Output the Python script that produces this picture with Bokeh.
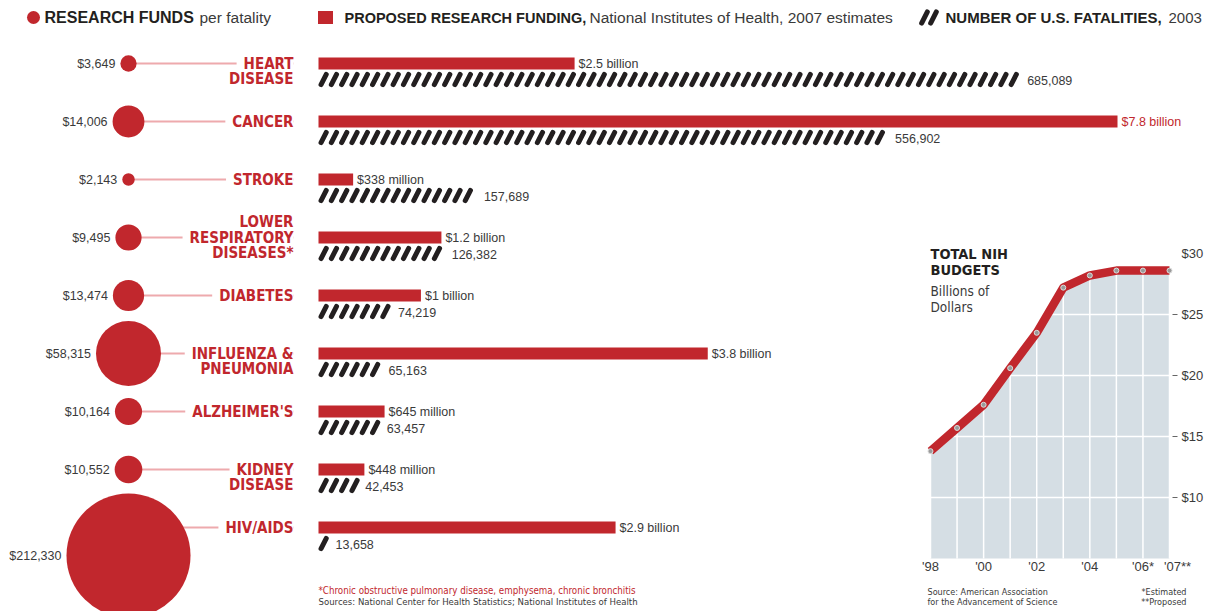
import math
from bokeh.plotting import figure
from bokeh.models import Range1d
from bokeh.core.properties import value
from bokeh.embed import file_html
from bokeh.resources import INLINE

# ---------------- data ----------------
diseases = ["HEART\nDISEASE", "CANCER", "STROKE", "LOWER\nRESPIRATORY\nDISEASES*",
            "DIABETES", "INFLUENZA &\nPNEUMONIA", "ALZHEIMER'S", "KIDNEY\nDISEASE", "HIV/AIDS"]
funds_per_fatality = [3649, 14006, 2143, 9495, 13474, 58315, 10164, 10552, 212330]
funding_billions = [2.5, 7.8, 0.338, 1.2, 1.0, 3.8, 0.645, 0.448, 2.9]
funding_labels = ["$2.5 billion", "$7.8 billion", "$338 million", "$1.2 billion", "$1 billion",
                  "$3.8 billion", "$645 million", "$448 million", "$2.9 billion"]
fatalities = [685089, 556902, 157689, 126382, 74219, 65163, 63457, 42453, 13658]
fatalities_per_icon = 10000

nih_years = [1998, 1999, 2000, 2001, 2002, 2003, 2004, 2005, 2006, 2007]
nih_budget = [13.8, 15.7, 17.6, 20.6, 23.5, 27.2, 28.2, 28.6, 28.6, 28.6]
year_ticks = [1998, 2000, 2002, 2004, 2006, 2007]
year_tick_labels = ["'98", "'00", "'02", "'04", "'06*", "'07**"]
dollar_ticks = [10, 15, 20, 25, 30]
dollar_tick_labels = ["$10", "$15", "$20", "$25", "$30"]
nih_floor = 5

# ---------------- layout / style ----------------
W, H = 1213, 611
RED = "#c1272d"
PINK = "#eeaaad"
INK = "#231f20"
GREY = "#3a3a3a"
NARROW = "Liberation Sans Narrow, DejaVu Sans Condensed, sans-serif"
SANS = "Liberation Sans, Arial, sans-serif"
ROW = 58.0          # row pitch in px


def span(v0, p0, v1, p1, flip=False):
    k = (v1 - v0) / (p1 - p0)
    f = lambda p: v0 + (p - p0) * k
    if flip:
        return Range1d(start=f(H), end=f(0))
    return Range1d(start=f(0), end=f(W))


p = figure(width=W, height=H, output_backend="svg", toolbar_location=None,
           x_axis_type=None, y_axis_type=None, min_border=0,
           x_range=span(0, 318, 7.8, 1117), y_range=span(0, 63, 8, 527, flip=True))
p.grid.visible = False
p.outline_line_color = None
p.background_fill_color = "white"
p.border_fill_color = "white"
p.extra_x_ranges = {"px": span(0, 0, 1, 1), "fat": span(0, 318, fatalities_per_icon, 328.3),
                    "yr": span(1998, 930, 2007, 1169)}
p.extra_y_ranges = {"py": span(0, 0, 1, 1, flip=True), "usd": span(30, 253, 10, 497, flip=True)}

n = len(diseases)
rows = list(range(n))

# ---- circles: research funds per fatality ----
CX = 128
K = 0.1346
radius = [K * math.sqrt(v) for v in funds_per_fatality]
circle_y = [i + max(0.0, r - 34) / ROW for i, r in zip(rows, radius)]

p.segment(x0=[CX] * n, y0=rows, x1=[293] * n, y1=rows, x_range_name="px",
          line_color=PINK, line_width=2)
p.scatter(x=[CX] * n, y=circle_y, size=[2 * r for r in radius], x_range_name="px",
          fill_color=RED, line_color=None)
p.text(x=[CX] * n, y=circle_y, text=[f"${v:,}" for v in funds_per_fatality],
       x_offset=[-(r + 5) for r in radius], x_range_name="px",
       text_align="right", text_baseline="middle", text_font=value(SANS),
       text_font_size="12.5px", text_color=GREY)

# ---- disease labels ----
lx, ly, lt = [], [], []
for i, lab in enumerate(diseases):
    lines = lab.split("\n")
    first = -((len(lines) - 1) // 2)
    for j, ln in enumerate(lines):
        lx.append(293)
        ly.append(i + (first + j) * 15.5 / ROW)
        lt.append(ln)
p.text(x=lx, y=ly, text=lt, x_range_name="px", text_align="right", text_baseline="middle",
       text_font=value(NARROW), text_font_style="bold", text_font_size="15px",
       text_color=RED, background_fill_color="white",
       padding=dict(left=7, right=0, top=0, bottom=0))

# ---- bars: proposed research funding ----
p.hbar(y=rows, left=0, right=funding_billions, height=12 / ROW, fill_color=RED, line_color=None)
top = max(funding_billions)
p.text(x=funding_billions, y=rows, text=funding_labels, x_offset=4,
       text_baseline="middle", text_font=value(SANS), text_font_size="12.5px",
       text_color=[RED if v == top else GREY for v in funding_billions])

# ---- icons: fatalities ----
ix, iy = [], []
for i, f in enumerate(fatalities):
    for k in range(int(f // fatalities_per_icon)):
        ix.append((k + 0.5) * fatalities_per_icon)
        iy.append(i + 16 / ROW)
p.scatter(x=ix, y=iy, x_range_name="fat", marker="dash", size=11.5, angle=1.1,
          line_width=5, line_color=INK, line_cap="round")
p.text(x=fatalities, y=[i + 17 / ROW for i in rows], text=[f"{v:,}" for v in fatalities],
       x_range_name="fat", x_offset=3, text_baseline="middle", text_font=value(SANS),
       text_font_size="12.5px", text_color=GREY)

# ---- inset: total NIH budgets ----
p.varea(x=nih_years, y1=[nih_floor] * len(nih_years), y2=nih_budget, x_range_name="yr",
        y_range_name="usd", fill_color="#d5dee4")
p.segment(x0=nih_years, y0=[nih_floor] * len(nih_years), x1=nih_years, y1=nih_budget,
          x_range_name="yr", y_range_name="usd", line_color="white", line_width=1.5)
p.segment(x0=[nih_years[0]] * 4, y0=dollar_ticks[:-1], x1=[nih_years[-1]] * 4, y1=dollar_ticks[:-1],
          x_range_name="yr", y_range_name="usd", line_color="white", line_width=1.5)
p.line(x=nih_years, y=nih_budget, x_range_name="yr", y_range_name="usd",
       line_color=RED, line_width=8.5, line_join="round")
p.scatter(x=nih_years, y=nih_budget, x_range_name="yr", y_range_name="usd", size=5,
          fill_color="#9a9a9a", line_color="#dddddd", line_width=1)
p.segment(x0=[1172] * 4, y0=dollar_ticks[:-1], x1=[1177] * 4, y1=dollar_ticks[:-1],
          x_range_name="px", y_range_name="usd", line_color="#666666", line_width=1)
p.text(x=[1181] * len(dollar_ticks), y=dollar_ticks, text=dollar_tick_labels,
       x_range_name="px", y_range_name="usd", text_baseline="middle",
       text_font=value(SANS), text_font_size="13px", text_color=GREY)
p.text(x=year_ticks, y=[566] * len(year_ticks), text=year_tick_labels,
       x_offset=[0, 0, 0, 0, 0, 8], x_range_name="yr", y_range_name="py",
       text_align="center", text_baseline="middle", text_font=value(SANS),
       text_font_size="13px", text_color=GREY)
p.text(x=[930, 930], y=[253, 269], text=["TOTAL NIH", "BUDGETS"], x_range_name="px",
       y_range_name="py", text_baseline="middle", text_font=value(NARROW),
       text_font_style="bold", text_font_size="14.5px", text_color=INK)
p.text(x=[930, 930], y=[290, 306], text=["Billions of", "Dollars"], x_range_name="px",
       y_range_name="py", text_baseline="middle", text_font=value(NARROW),
       text_font_size="13.5px", text_color=GREY)
p.text(x=[927, 927], y=[591, 601], text=["Source: American Association", "for the Advancement of Science"],
       x_range_name="px", y_range_name="py", text_baseline="middle", text_font=value(NARROW),
       text_font_size="9px", text_color=GREY)
p.text(x=[1186, 1186], y=[591, 601], text=["*Estimated", "**Proposed"],
       x_range_name="px", y_range_name="py", text_align="right", text_baseline="middle",
       text_font=value(NARROW), text_font_size="9px", text_color=GREY)

# ---- footnotes ----
p.text(x=[318], y=[590], text=["*Chronic obstructive pulmonary disease, emphysema, chronic bronchitis"],
       x_range_name="px", y_range_name="py", text_baseline="middle", text_font=value(NARROW),
       text_font_size="9.7px", text_color=RED)
p.text(x=[318], y=[601], text=["Sources: National Center for Health Statistics; National Institutes of Health"],
       x_range_name="px", y_range_name="py", text_baseline="middle", text_font=value(NARROW),
       text_font_size="9.5px", text_color=GREY)

# ---- legend ----
LY = 17
p.scatter(x=[33], y=[LY], size=13, x_range_name="px", y_range_name="py",
          fill_color=RED, line_color=None)
p.rect(x=[325], y=[LY], width=15, height=13, x_range_name="px", y_range_name="py",
       fill_color=RED, line_color=None)
p.scatter(x=[924, 933], y=[LY, LY], x_range_name="px", y_range_name="py", marker="dash",
          size=12.5, angle=1.1, line_width=5, line_color=INK, line_cap="round")
p.text(x=[44, 344, 945], y=[LY] * 3,
       text=["RESEARCH FUNDS", "PROPOSED RESEARCH FUNDING,", "NUMBER OF U.S. FATALITIES,"],
       x_range_name="px", y_range_name="py", text_baseline="middle", text_font=value(SANS),
       text_font_style="bold", text_font_size=["16px", "14.5px", "15px"], text_color=INK)
p.text(x=[199, 589, 1168], y=[LY] * 3,
       text=["per fatality", "National Institutes of Health, 2007 estimates", "2003"],
       x_range_name="px", y_range_name="py", text_baseline="middle", text_font=value(SANS),
       text_font_size=["15.5px", "15.5px", "15px"], text_color=GREY)

open("out.html", "w").write(file_html(p, INLINE))
